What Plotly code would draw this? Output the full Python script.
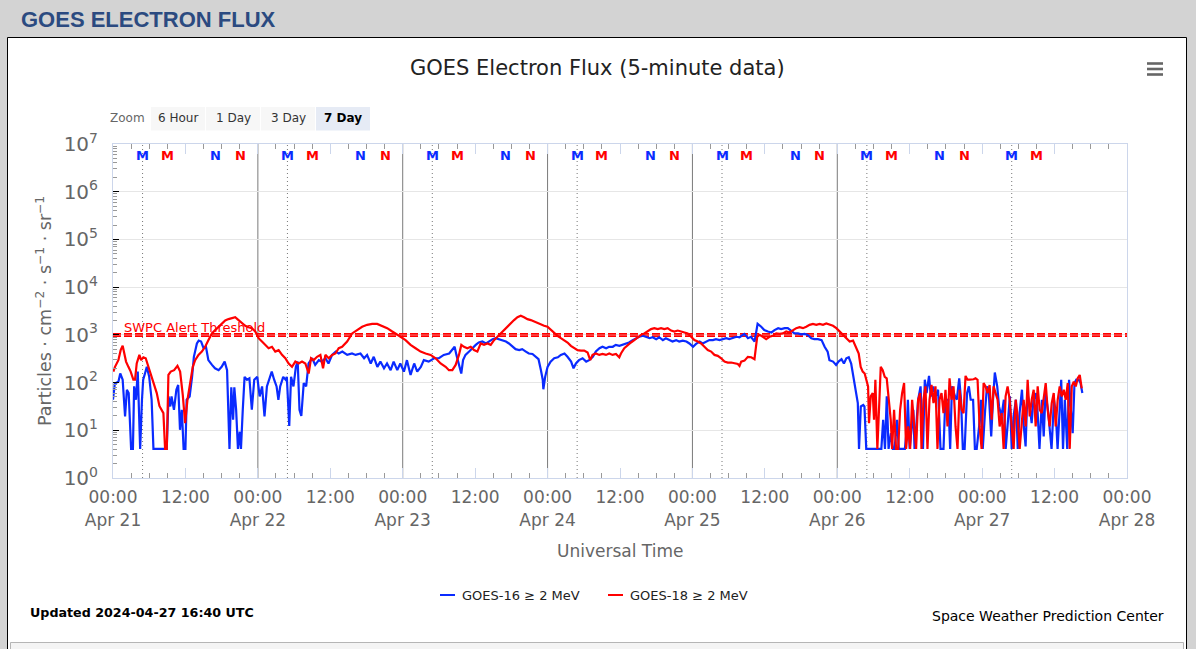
import pandas as pd
import plotly.graph_objects as go

# ---------------- data ----------------
START = pd.Timestamp("2024-04-21 00:00")
END = pd.Timestamp("2024-04-28 00:00")

# (hours since 2024-04-21 00:00 UTC, log10 flux)
g16_points = [
    (0.0, 1.64), (0.3, 1.98), (0.9, 2.02), (1.2, 2.19), (1.6, 2.06), (2.0, 1.29), (2.3, 1.85), (2.6, 1.78),
    (3.0, 0.61), (3.3, 0.61), (3.5, 1.92), (3.8, 1.64), (4.1, 2.23), (4.5, 0.61), (4.8, 1.64), (5.0, 2.06),
    (5.3, 2.19), (5.6, 2.33), (6.0, 2.12), (6.4, 1.64), (6.7, 0.61), (8.9, 0.61), (9.2, 1.71), (9.5, 1.50),
    (9.7, 1.71), (10.1, 1.43), (10.5, 1.85), (10.8, 1.95), (11.1, 1.01), (11.4, 1.43), (11.7, 0.61), (12.0, 0.61),
    (12.2, 1.64), (12.7, 1.71), (13.1, 2.12), (13.4, 2.54), (13.9, 2.82), (14.2, 2.88), (14.6, 2.86), (15.0, 2.72),
    (15.4, 2.75), (15.8, 2.47), (16.4, 2.37), (16.9, 2.30), (17.5, 2.26), (18.0, 2.33), (18.5, 2.44), (18.9, 2.26),
    (19.3, 0.61), (19.6, 1.90), (19.9, 1.22), (20.1, 1.90), (20.4, 1.43), (20.7, 0.61), (21.0, 0.97), (21.2, 0.61),
    (21.5, 1.43), (21.8, 2.12), (22.2, 2.06), (22.6, 2.09), (23.0, 1.43), (23.4, 2.06), (23.9, 2.12), (24.3, 1.71),
    (24.7, 1.92), (25.1, 1.29), (25.5, 1.92), (26.0, 2.12), (26.3, 2.23), (26.7, 2.06), (27.1, 1.92), (27.4, 1.64),
    (27.7, 1.92), (28.2, 2.12), (28.6, 2.06), (28.8, 2.12), (29.2, 1.09), (29.5, 2.12), (29.9, 1.92), (30.3, 2.33),
    (30.6, 2.44), (30.9, 1.43), (31.2, 1.30), (31.6, 1.99), (32.0, 1.92), (32.4, 2.40), (33.0, 2.51), (33.5, 2.37),
    (34.1, 2.47), (34.6, 2.44), (35.2, 2.51), (35.7, 2.40), (36.3, 2.58), (36.9, 2.65), (37.4, 2.61), (38.0, 2.65),
    (38.8, 2.58), (39.6, 2.61), (40.2, 2.58), (41.0, 2.61), (41.6, 2.51), (42.1, 2.58), (42.7, 2.40), (43.2, 2.54),
    (43.8, 2.33), (44.3, 2.44), (44.9, 2.30), (45.4, 2.40), (46.0, 2.26), (46.5, 2.44), (47.1, 2.26), (47.6, 2.40),
    (48.2, 2.23), (48.7, 2.47), (49.3, 2.16), (49.9, 2.40), (50.4, 2.23), (51.0, 2.33), (51.5, 2.47), (52.3, 2.44),
    (53.2, 2.51), (54.0, 2.51), (54.8, 2.58), (55.7, 2.61),
    (56.2, 2.68), (56.6, 2.75), (56.9, 2.58), (57.3, 2.40), (57.7, 2.19), (58.0, 2.47), (58.4, 2.58), (59.0, 2.65),
    (59.5, 2.72), (60.1, 2.79), (60.6, 2.84), (61.2, 2.86), (61.8, 2.82), (62.3, 2.86), (62.9, 2.91), (63.4, 2.93),
    (64.0, 2.91), (64.5, 2.88), (65.1, 2.86), (65.6, 2.82), (66.2, 2.75), (66.7, 2.70), (67.3, 2.68), (67.8, 2.70),
    (68.4, 2.65), (68.9, 2.61), (69.5, 2.60), (70.1, 2.54), (70.5, 2.49), (70.9, 2.26), (71.2, 2.06), (71.3, 1.86),
    (71.6, 2.12), (72.0, 2.33), (72.5, 2.44), (73.1, 2.51), (73.7, 2.53), (74.2, 2.58), (74.8, 2.61), (75.3, 2.54),
    (75.9, 2.44), (76.3, 2.30), (76.7, 2.40), (77.2, 2.47), (77.8, 2.51), (78.4, 2.44), (78.9, 2.47), (79.5, 2.54),
    (80.0, 2.65), (80.6, 2.72), (81.1, 2.75), (81.7, 2.72), (82.2, 2.75), (82.8, 2.75), (83.3, 2.79), (83.9, 2.77),
    (84.4, 2.79), (85.0, 2.82), (85.5, 2.84), (86.1, 2.89), (86.7, 2.93), (87.2, 2.96), (87.8, 2.98), (88.3, 2.96),
    (88.9, 2.93), (89.4, 2.95), (90.0, 2.91), (90.5, 2.95), (91.1, 2.89), (91.6, 2.93), (92.2, 2.89), (92.7, 2.86),
    (93.3, 2.89), (93.8, 2.86), (94.4, 2.88), (95.0, 2.86), (95.5, 2.82), (96.1, 2.75), (96.6, 2.81), (97.2, 2.86),
    (97.7, 2.82), (98.3, 2.86), (98.8, 2.89), (99.4, 2.89), (99.9, 2.91), (100.5, 2.89), (101.0, 2.91), (101.6, 2.93),
    (102.1, 2.91), (102.7, 2.93), (103.3, 2.96), (103.8, 2.95), (104.4, 3.00), (104.6, 3.02), (105.2, 2.93), (105.7, 2.96),
    (106.3, 2.86), (106.8, 3.23), (107.4, 3.17), (107.9, 3.10), (108.5, 3.07), (109.1, 3.05), (109.6, 3.10), (110.2, 3.14),
    (110.7, 3.12), (111.3, 3.14), (111.8, 3.14), (112.4, 3.07), (112.9, 3.03), (113.5, 3.03), (114.0, 3.01), (114.6, 3.02),
    (115.1, 3.00), (115.7, 2.93), (116.2, 2.91), (116.8, 2.91), (117.4, 2.89), (117.9, 2.75), (118.4, 2.65), (118.7, 2.47),
    (119.3, 2.44), (119.8, 2.37), (120.2, 2.44), (120.7, 2.49), (121.1, 2.40), (121.5, 2.51), (121.9, 2.53), (122.3, 2.40),
    (122.6, 2.19), (122.9, 1.99), (123.2, 1.71), (123.4, 1.57), (123.6, 0.61), (123.9, 1.50), (124.3, 1.53), (124.5, 1.50),
    (124.8, 0.61), (127.3, 0.61), (127.6, 1.22), (127.9, 0.61), (128.2, 1.71), (128.5, 0.61), (128.9, 0.94), (129.2, 0.61),
    (129.5, 0.61), (129.9, 1.22), (130.2, 0.61), (131.2, 0.61), (131.5, 1.01), (131.7, 1.64), (132.0, 0.61), (132.6, 1.43),
    (132.8, 0.61), (133.4, 1.64), (133.8, 1.92), (134.2, 0.61), (134.5, 2.06), (134.8, 1.78), (135.2, 2.14), (135.5, 1.71),
    (135.9, 1.92), (136.3, 1.71), (136.7, 1.85), (137.1, 0.61), (137.6, 0.61), (137.9, 1.64), (138.4, 1.64), (138.7, 0.61),
    (139.0, 1.92), (139.5, 1.71), (139.8, 1.64), (140.2, 2.09), (140.5, 1.64), (140.8, 0.61), (141.1, 0.61), (141.5, 1.78),
    (141.8, 1.92), (142.1, 1.64), (142.5, 1.64), (142.8, 0.61), (143.1, 0.61), (143.5, 1.08), (143.8, 1.64), (144.1, 0.61),
    (144.5, 1.43), (144.8, 1.92), (145.1, 1.78), (145.5, 0.87), (145.8, 1.64), (146.1, 2.21), (146.5, 1.92), (146.8, 1.50),
    (147.2, 1.29), (147.6, 1.64), (147.9, 0.61), (148.2, 1.08), (148.6, 1.71), (148.9, 0.61), (149.2, 1.29), (149.6, 1.64),
    (149.9, 0.61), (150.2, 1.36), (150.6, 1.85), (150.9, 1.08), (151.2, 0.66), (151.5, 1.78), (151.9, 1.50), (152.2, 1.15),
    (152.5, 1.64), (152.9, 1.78), (153.2, 1.36), (153.5, 0.61), (153.9, 1.64), (154.2, 0.87), (154.5, 1.78), (154.9, 1.43),
    (155.2, 1.08), (155.5, 0.61), (155.9, 1.64), (156.2, 1.36), (156.5, 0.61), (156.9, 1.78), (157.1, 2.06), (157.4, 0.61),
    (157.7, 1.64), (158.1, 0.61), (158.4, 2.06), (158.7, 1.43), (159.0, 0.94), (159.3, 1.99), (159.6, 2.06), (160.0, 2.06),
    (160.3, 1.99), (160.6, 1.78),
]

g18_points = [
    (0.06, 2.23), (0.33, 2.33), (0.89, 2.47), (1.27, 2.68), (1.60, 2.77), (1.83, 2.65), (2.16, 2.44), (2.55, 2.33),
    (2.93, 2.23), (3.37, 2.06), (3.65, 2.06), (3.93, 2.40), (4.37, 2.58), (4.65, 2.47), (5.03, 2.53), (5.42, 2.51),
    (5.86, 2.33), (6.14, 2.19), (6.70, 1.99), (7.25, 1.78), (7.69, 1.51), (8.08, 1.43), (8.35, 1.36), (8.63, 0.61),
    (8.91, 0.61), (9.18, 2.16), (9.57, 2.23), (10.13, 2.26), (10.68, 2.35), (11.12, 2.23), (11.56, 1.74), (11.95, 1.15),
    (12.34, 1.64), (12.78, 1.99), (13.22, 2.33), (13.61, 2.47), (14.16, 2.58), (14.72, 2.65), (15.27, 2.75), (15.82, 2.89),
    (16.38, 3.03), (16.93, 3.10), (17.48, 3.17), (18.04, 3.24), (18.59, 3.30), (19.14, 3.33), (19.70, 3.35), (20.25, 3.37),
    (20.80, 3.31), (21.36, 3.24), (21.91, 3.19), (22.46, 3.16), (23.02, 3.14), (23.57, 3.07), (24.12, 2.93), (24.68, 2.86),
    (25.23, 2.79), (25.78, 2.72), (26.34, 2.75), (26.89, 2.65), (27.44, 2.68), (28.00, 2.58), (28.55, 2.51), (29.10, 2.40),
    (29.66, 2.33), (30.21, 2.44), (30.76, 2.40), (31.32, 2.44), (31.87, 2.40), (32.42, 2.19), (32.81, 2.51), (33.25, 2.47),
    (33.81, 2.54), (34.36, 2.58), (34.80, 2.30), (35.19, 2.58), (35.74, 2.51), (36.30, 2.58), (36.85, 2.61), (37.40, 2.72),
    (37.96, 2.75), (38.79, 2.86), (39.62, 3.03), (40.45, 3.10), (41.28, 3.17), (42.11, 3.21), (42.94, 3.23), (43.77, 3.23),
    (44.60, 3.19), (45.43, 3.14), (46.26, 3.07), (46.81, 3.03), (47.64, 2.96), (48.47, 2.89), (49.30, 2.79), (50.13, 2.72),
    (50.96, 2.65), (51.79, 2.61), (52.62, 2.58), (53.45, 2.51), (54.28, 2.40), (55.11, 2.33), (55.66, 2.26),
    (56.22, 2.26), (56.77, 2.37), (57.32, 2.58), (57.71, 2.79), (58.15, 2.75), (58.71, 2.72), (59.26, 2.75), (59.81, 2.68),
    (60.37, 2.65), (60.92, 2.82), (61.47, 2.79), (62.03, 2.82), (62.58, 2.79), (63.13, 2.89), (63.69, 2.96), (64.24, 3.03),
    (64.79, 3.10), (65.35, 3.17), (65.90, 3.26), (66.45, 3.31), (67.01, 3.37), (67.56, 3.40), (68.11, 3.37), (68.67, 3.33),
    (69.22, 3.31), (69.77, 3.28), (70.33, 3.24), (70.88, 3.21), (71.43, 3.19), (71.99, 3.17), (72.54, 3.10), (73.09, 3.03),
    (73.65, 2.98), (74.20, 2.93), (74.75, 2.89), (75.31, 2.84), (75.86, 2.77), (76.41, 2.72), (76.97, 2.68), (77.52, 2.67),
    (78.07, 2.67), (78.63, 2.63), (79.07, 2.47), (79.45, 2.58), (80.01, 2.61), (80.56, 2.58), (81.11, 2.60), (81.67, 2.58),
    (82.22, 2.61), (82.77, 2.58), (83.33, 2.60), (83.88, 2.53), (84.16, 2.61), (84.71, 2.72), (85.26, 2.79), (85.82, 2.84),
    (86.37, 2.89), (86.92, 2.95), (87.48, 3.00), (88.03, 3.03), (88.58, 3.07), (89.14, 3.12), (89.69, 3.14), (90.24, 3.12),
    (90.80, 3.14), (91.35, 3.12), (91.90, 3.14), (92.46, 3.09), (93.01, 3.07), (93.56, 3.09), (94.12, 3.07), (94.67, 3.05),
    (95.22, 3.03), (95.78, 2.96), (96.33, 2.89), (96.88, 2.86), (97.44, 2.82), (97.99, 2.75), (98.54, 2.68), (99.10, 2.65),
    (99.65, 2.58), (100.20, 2.56), (100.76, 2.51), (101.31, 2.44), (101.86, 2.42), (102.42, 2.42), (102.97, 2.40), (103.52, 2.39),
    (103.80, 2.35), (104.08, 2.44), (104.63, 2.46), (105.18, 2.54), (105.74, 2.53),
    (106.28, 2.49), (106.73, 2.96), (107.11, 3.00), (107.67, 2.96), (108.22, 2.91), (108.77, 2.96), (109.33, 2.98), (109.88, 3.03),
    (110.43, 3.02), (110.99, 3.03), (111.54, 3.07), (112.09, 3.05), (112.65, 3.09), (113.20, 3.14), (113.75, 3.16), (114.31, 3.14),
    (114.86, 3.17), (115.41, 3.21), (115.97, 3.23), (116.52, 3.21), (117.07, 3.23), (117.63, 3.21), (118.18, 3.24), (118.73, 3.21),
    (119.29, 3.19), (119.84, 3.14), (120.39, 3.07), (120.95, 3.00), (121.50, 2.93), (122.05, 2.86), (122.61, 2.88), (123.16, 2.72),
    (123.55, 2.61), (123.88, 2.33), (124.21, 2.23), (124.54, 2.19), (124.87, 2.06), (125.10, 1.92), (125.26, 1.15), (125.54, 1.71),
    (125.87, 1.78), (126.09, 1.22), (126.31, 2.06), (126.64, 0.61), (126.98, 1.64), (127.20, 2.33), (127.53, 2.26), (127.86, 2.12),
    (128.19, 2.09), (128.53, 1.64), (128.86, 1.22), (129.08, 0.61), (129.41, 1.43), (129.74, 0.61), (130.08, 0.61), (130.41, 1.43),
    (130.74, 1.78), (131.07, 1.99), (131.40, 0.61), (131.74, 1.08), (132.07, 0.61), (132.40, 1.64), (132.73, 1.08), (133.06, 0.61),
    (133.39, 1.64), (133.73, 1.78), (133.95, 0.61), (134.28, 1.64), (134.61, 1.92), (134.94, 0.61), (135.28, 1.64), (135.61, 1.95),
    (135.94, 1.57), (136.27, 1.92), (136.60, 0.61), (136.94, 1.64), (137.27, 1.78), (137.60, 1.36), (137.93, 1.85), (138.26, 1.08),
    (138.60, 2.09), (138.93, 1.64), (139.26, 1.92), (139.59, 1.08), (139.92, 0.61), (140.26, 1.85), (140.59, 1.43), (140.92, 1.36),
    (141.25, 2.14), (141.58, 2.06), (141.91, 2.06), (142.25, 2.06), (142.58, 2.07), (142.91, 2.09), (143.24, 2.06), (143.58, 1.08),
    (143.91, 0.61), (144.24, 1.99), (144.57, 1.92), (144.90, 1.78), (145.24, 1.95), (145.57, 1.22), (145.90, 1.92), (146.23, 1.78),
    (146.56, 1.64), (146.90, 1.08), (147.23, 1.36), (147.56, 0.61), (147.89, 1.71), (148.22, 1.92), (148.56, 1.64), (148.89, 1.08),
    (149.22, 0.61), (149.55, 1.64), (149.88, 1.29), (150.22, 0.61), (150.55, 1.22), (150.88, 1.64), (151.21, 1.08), (151.54, 2.06),
    (151.88, 1.29), (152.21, 1.64), (152.54, 1.85), (152.87, 1.08), (153.20, 1.92), (153.53, 1.43), (153.87, 1.36), (154.20, 1.64),
    (154.53, 1.99), (154.86, 1.43), (155.19, 1.08), (155.53, 1.57), (155.86, 1.78), (156.19, 1.08), (156.52, 1.64), (156.85, 1.92),
    (157.19, 1.71), (157.52, 1.85), (157.85, 1.64), (158.18, 1.99), (158.51, 0.61), (158.85, 1.92), (159.18, 2.02), (159.51, 1.92),
    (159.84, 2.09), (160.17, 2.16), (160.50, 1.88),
]

threshold_flux_lines = [1050, 940]          # SWPC alert threshold (drawn as a double dashed line)
y_tick_values = [1, 10, 100, 1000, 1e4, 1e5, 1e6, 1e7]
y_tick_labels = ["10<sup>0</sup>", "10<sup>1</sup>", "10<sup>2</sup>", "10<sup>3</sup>",
                 "10<sup>4</sup>", "10<sup>5</sup>", "10<sup>6</sup>", "10<sup>7</sup>"]
x_tick_hours = [0, 12, 24, 36, 48, 60, 72, 84, 96, 108, 120, 132, 144, 156, 168]
x_tick_labels = ["00:00<br>Apr 21", "12:00", "00:00<br>Apr 22", "12:00", "00:00<br>Apr 23", "12:00",
                 "00:00<br>Apr 24", "12:00", "00:00<br>Apr 25", "12:00", "00:00<br>Apr 26", "12:00",
                 "00:00<br>Apr 27", "12:00", "00:00<br>Apr 28"]
day_line_hours = [24, 48, 72, 96, 120]
# local midnight (M) / noon (N) in UT hours for each satellite
g16_midnight_ut, g16_noon_ut = 4.9, 17.0
g18_midnight_ut, g18_noon_ut = 9.0, 21.1
data_end_hours = 160.67  # 2024-04-27 16:40 UTC

# ---------------- styling / helpers ----------------
BLUE = "#0a2bff"
RED = "#ff0000"
FONT = "DejaVu Sans"
W, H = 1196, 649
PL, PR, PT, PB = 113, 1127, 144, 478


def px(x):
    return (x - PL) / (PR - PL)


def py(y):
    return (PB - y) / (PB - PT)


def t(h):
    return START + pd.Timedelta(hours=h)


fig = go.Figure()

g16_h = [p[0] for p in g16_points]
g16_v = [10 ** p[1] for p in g16_points]
g18_h = [p[0] for p in g18_points]
g18_v = [10 ** p[1] for p in g18_points]

for lvl in threshold_flux_lines:
    fig.add_trace(go.Scatter(x=[START, END], y=[lvl, lvl], mode="lines",
                             line=dict(color=RED, width=1.6, dash="8px,3px"),
                             hoverinfo="skip", showlegend=False))

fig.add_trace(go.Scatter(x=[t(h) for h in g16_h], y=g16_v, mode="lines",
                         line=dict(color=BLUE, width=2.2), name="GOES-16 ≥ 2 MeV", showlegend=False))
fig.add_trace(go.Scatter(x=[t(h) for h in g18_h], y=g18_v, mode="lines",
                         line=dict(color=RED, width=2.2), name="GOES-18 ≥ 2 MeV", showlegend=False))

shapes = []
annotations = []

# page frame
shapes.append(dict(type="rect", xref="paper", yref="paper", x0=px(7.5), x1=px(1186.5), y0=py(700), y1=py(37.5),
                   fillcolor="white", line=dict(color="black", width=1), layer="below"))
shapes.append(dict(type="rect", xref="paper", yref="paper", x0=px(10.5), x1=px(1183.5), y0=py(700), y1=py(642.5),
                   fillcolor="#f4f4f4", line=dict(color="#b5b5b5", width=1), layer="below"))

# day boundary lines and GOES-16 midnight dotted lines
for h in day_line_hours:
    shapes.append(dict(type="line", xref="x", yref="paper", x0=t(h), x1=t(h), y0=0, y1=1,
                       line=dict(color="#7a7a7a", width=1), layer="below"))
for d in range(7):
    h = d * 24 + g16_midnight_ut
    if h <= data_end_hours:
        shapes.append(dict(type="line", xref="x", yref="paper", x0=t(h), x1=t(h), y0=0, y1=1,
                           line=dict(color="#777777", width=1, dash="1px,3px"), layer="below"))

# M / N markers
for d in range(7):
    for hh, lab, col in [(g16_midnight_ut, "M", BLUE), (g18_midnight_ut, "M", RED),
                         (g16_noon_ut, "N", BLUE), (g18_noon_ut, "N", RED)]:
        h = d * 24 + hh
        if h <= data_end_hours:
            annotations.append(dict(x=t(h), y=py(155.5), xref="x", yref="paper", text=f"<b>{lab}</b>",
                                    showarrow=False, xanchor="center", yanchor="middle",
                                    font=dict(family=FONT, size=13, color=col)))

# threshold label
annotations.append(dict(x=px(122), y=py(327), xref="paper", yref="paper", text="SWPC Alert Threshold",
                        showarrow=False, xanchor="left", yanchor="middle",
                        font=dict(family=FONT, size=13, color=RED)))

# header
annotations.append(dict(x=px(19), y=py(19), xref="paper", yref="paper", text="<b>GOES ELECTRON FLUX</b>",
                        showarrow=False, xanchor="left", yanchor="middle",
                        font=dict(family="Liberation Sans", size=22, color="#2b4a80")))
# chart title
annotations.append(dict(x=px(597), y=py(68), xref="paper", yref="paper",
                        text="GOES Electron Flux (5-minute data)", showarrow=False,
                        xanchor="center", yanchor="middle", font=dict(family=FONT, size=21, color="#222222")))

# hamburger icon
for yy in (63.5, 69, 74.5):
    shapes.append(dict(type="rect", xref="paper", yref="paper", x0=px(1147), x1=px(1163), y0=py(yy + 1.3),
                       y1=py(yy - 1.3), fillcolor="#666666", line=dict(width=0)))

# zoom buttons
annotations.append(dict(x=px(147), y=py(118), xref="paper", yref="paper", text="Zoom", showarrow=False,
                        xanchor="right", yanchor="middle", font=dict(family=FONT, size=12, color="#666666")))
buttons = [("6 Hour", 151, 205, False), ("1 Day", 206, 260, False), ("3 Day", 261, 315, False),
           ("7 Day", 316, 370, True)]
for lab, x0, x1, sel in buttons:
    shapes.append(dict(type="rect", xref="paper", yref="paper", x0=px(x0), x1=px(x1), y0=py(130.5), y1=py(107),
                       fillcolor="#e6ebf5" if sel else "#f7f7f7", line=dict(width=0)))
    annotations.append(dict(x=px((x0 + x1) / 2), y=py(118), xref="paper", yref="paper",
                            text=f"<b>{lab}</b>" if sel else lab, showarrow=False,
                            xanchor="center", yanchor="middle",
                            font=dict(family=FONT, size=12, color="#000000" if sel else "#333333")))

# axis titles
annotations.append(dict(x=px(44), y=py(311), xref="paper", yref="paper", textangle=-90,
                        text="Particles · cm<sup>−2</sup> · s<sup>−1</sup> · sr<sup>−1</sup>",
                        showarrow=False, xanchor="center", yanchor="middle",
                        font=dict(family=FONT, size=17.5, color="#666666")))
annotations.append(dict(x=px(620), y=py(551), xref="paper", yref="paper", text="Universal Time",
                        showarrow=False, xanchor="center", yanchor="middle",
                        font=dict(family=FONT, size=17, color="#666666")))

# custom legend
for x0, col, lab in [(440, BLUE, "GOES-16 ≥ 2 MeV"), (608, RED, "GOES-18 ≥ 2 MeV")]:
    shapes.append(dict(type="line", xref="paper", yref="paper", x0=px(x0), x1=px(x0 + 15), y0=py(595), y1=py(595),
                       line=dict(color=col, width=2)))
    annotations.append(dict(x=px(x0 + 20), y=py(595), xref="paper", yref="paper", text=lab,
                            showarrow=False, xanchor="left", yanchor="middle",
                            font=dict(family=FONT, size=13, color="#222222")))

# credits
annotations.append(dict(x=px(28), y=py(612), xref="paper", yref="paper", text="<b>Updated 2024-04-27 16:40 UTC</b>",
                        showarrow=False, xanchor="left", yanchor="middle",
                        font=dict(family=FONT, size=12.7, color="#000000")))
annotations.append(dict(x=px(1166), y=py(616), xref="paper", yref="paper", text="Space Weather Prediction Center",
                        showarrow=False, xanchor="right", yanchor="middle",
                        font=dict(family=FONT, size=14, color="#000000")))

minor_y = [m * 10 ** k for k in range(7) for m in range(2, 10)]

fig.update_xaxes(type="date", range=[START, END], tickmode="array",
                 tickvals=[t(h) for h in x_tick_hours], ticktext=x_tick_labels,
                 ticks="inside", ticklen=10, tickwidth=1, tickcolor="#ccd6eb",
                 showline=True, linecolor="#ccd6eb", linewidth=1, mirror="ticks",
                 showgrid=False, zeroline=False, ticklabelstandoff=4,
                 tickfont=dict(family=FONT, size=17, color="#666666"),
                 minor=dict(tickmode="linear", tick0=START, dtick=3 * 3600 * 1000, ticks="inside",
                            ticklen=5, tickwidth=1, tickcolor="#999999", showgrid=False))
fig.update_yaxes(type="log", range=[0, 7], tickmode="array", tickvals=y_tick_values, ticktext=y_tick_labels,
                 ticks="inside", ticklen=6, tickwidth=1, tickcolor="#000000",
                 showline=True, linecolor="#ccd6eb", linewidth=1, mirror=True,
                 showgrid=True, gridcolor="#e6e6e6", gridwidth=1, zeroline=False, ticklabelstandoff=10,
                 tickfont=dict(family=FONT, size=20, color="#666666"),
                 minor=dict(tickmode="array", tickvals=minor_y, ticks="inside", ticklen=4, tickwidth=1,
                            tickcolor="#999999", showgrid=False))

fig.update_layout(width=W, height=H, autosize=False,
                  margin=dict(l=PL, r=W - PR, t=PT, b=H - PB, pad=0),
                  paper_bgcolor="#d3d3d3", plot_bgcolor="white",
                  font=dict(family=FONT), showlegend=False,
                  shapes=shapes, annotations=annotations)

fig.write_html("out.html", config={"displayModeBar": False})
